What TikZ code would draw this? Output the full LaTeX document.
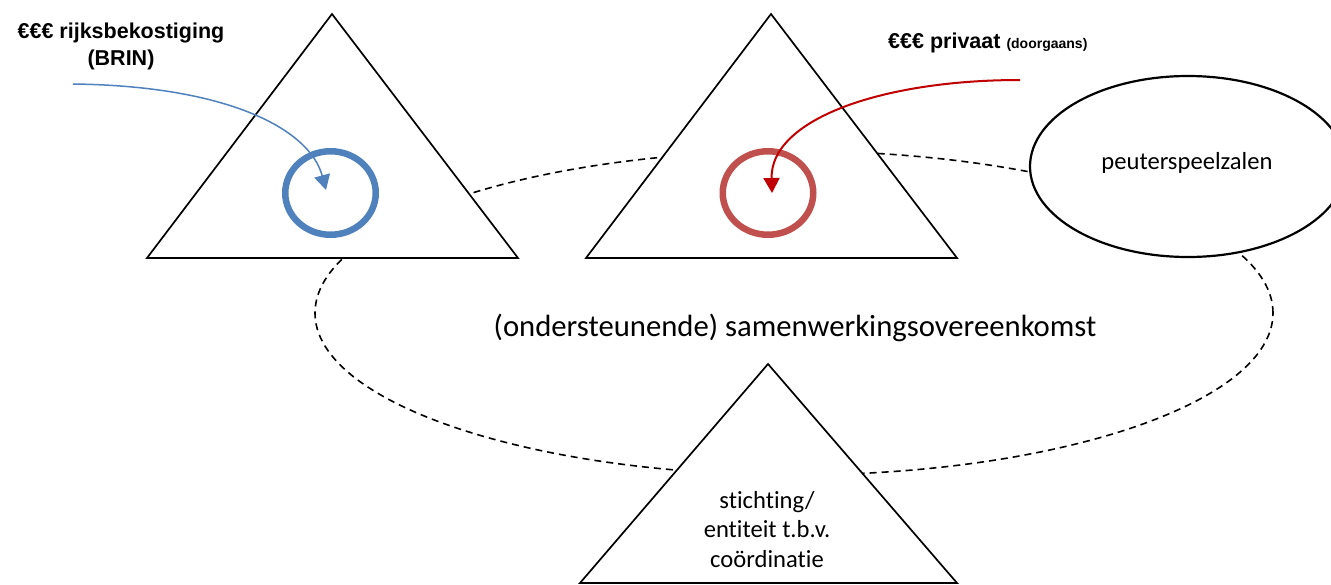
\documentclass[tikz,border=0pt]{standalone}
\usepackage{fontspec}
\setmainfont{Carlito}[Ligatures=NoCommon]
\newfontfamily\headfont{Liberation Sans}
\usetikzlibrary{arrows.meta,shapes.geometric}

\definecolor{ringblue}{RGB}{79,129,189}
\definecolor{ringred}{RGB}{192,80,77}
\definecolor{flowred}{RGB}{192,0,0}

\begin{document}
\begin{tikzpicture}[x=1pt,y=-1pt,
  tri/.style={draw=black, fill=white, line width=1.7pt, line join=miter},
  agreement/.style={draw=black, line width=1.6pt, dash pattern=on 7pt off 5pt},
  ring/.style={ellipse, draw, line width=6.5pt, minimum width=90.5pt,
    minimum height=83.5pt, inner sep=0pt},
  flow/.style={line width=#1, -{Triangle[width=16pt,length=15pt]}},
  money/.style={font=\headfont\bfseries\fontsize{21.5}{27}\selectfont},
  plain/.style={font=\fontsize{24.6}{29.5}\selectfont}
]
\useasboundingbox (0,0) rectangle (1331,584);

% cooperation agreement linking all parties
\draw[agreement] (794,313) ellipse [x radius=479pt, y radius=162pt];

% school boards (left, middle) and coordinating body (bottom)
\draw[tri] (147,258) -- (332,14) -- (518,258) -- cycle;
\draw[tri] (586,258) -- (771,14) -- (957,258) -- cycle;
\draw[tri] (580,583) -- (768,364) -- (957,583) -- cycle;

% playgroups (runs off the right edge)
\node[ellipse, draw, fill=white, line width=2.2pt, minimum width=316pt,
  minimum height=181pt, inner sep=0pt] (psz) at (1188,166.5) {};
\node[plain, anchor=base] (psztext) at (1187,169) {peuterspeelzalen};

% funding pools
\node[ring, draw=ringblue] (bluering) at (330.5,193) {};
\node[ring, draw=ringred] (redring) at (768,193) {};

% funding flows
\coordinate (bluestart) at (73,84);
\coordinate (bluetip) at (326,190);
\coordinate (redstart) at (1020,80);
\coordinate (redtip) at (772,193);
\draw[flow=1.5pt, ringblue] (bluestart) .. controls (230,86) and (310,130) .. (bluetip);
\draw[flow=2pt, flowred] (redstart) .. controls (880,80) and (770,120) .. (redtip);

% labels
\node[money, align=center, anchor=base] (publab) at (121,65)
  {€€€ rijksbekostiging\\(BRIN)};
\node[money, anchor=base west, inner sep=0pt] (privlab) at (888,48)
  {€€€ privaat {\fontsize{14}{16}\selectfont(doorgaans)}};
\node[font=\fontsize{30.7}{36}\selectfont, anchor=base] (agreelab) at (795,336)
  {(ondersteunende) samenwerkingsovereenkomst};
\node[plain, align=center, anchor=base] (coord) at (767,567)
  {stichting/\\entiteit t.b.v.\\coördinatie};
\end{tikzpicture}
\end{document}
